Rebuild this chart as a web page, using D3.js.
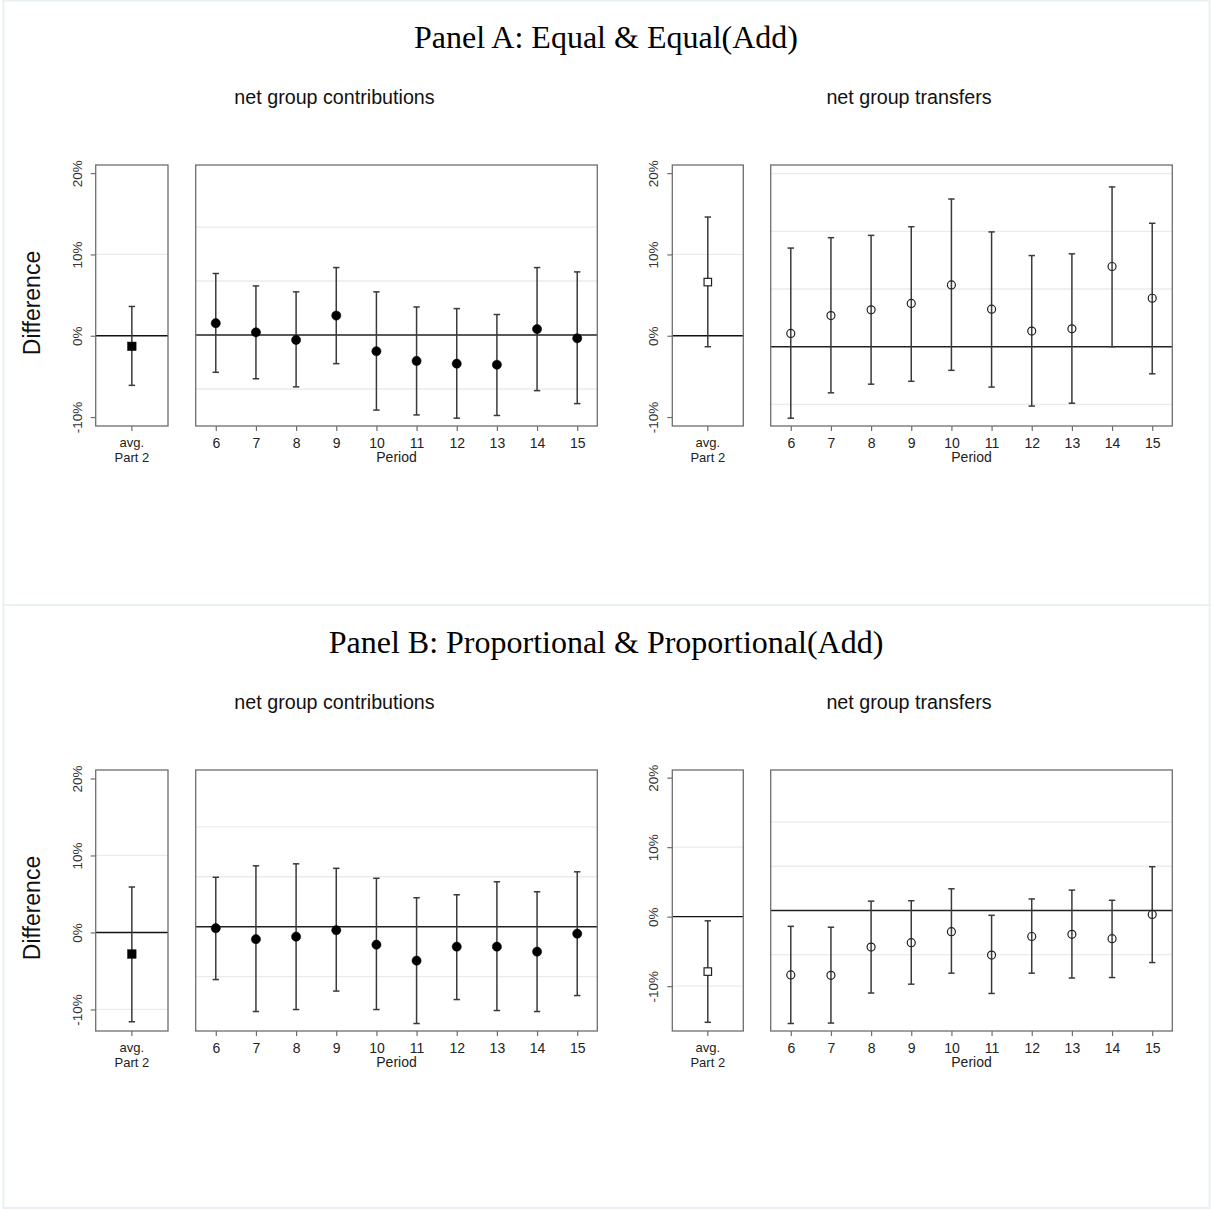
<!DOCTYPE html>
<html>
<head>
<meta charset="utf-8">
<script src="https://cdn.jsdelivr.net/npm/d3@7"></script>
<style>
  html, body { margin: 0; padding: 0; background: #fff; }
  svg { display: block; }
</style>
</head>
<body>
<svg id="chart" width="1213" height="1209"></svg>
<script>
// ---------------- DATA ----------------
const periods = [6, 7, 8, 9, 10, 11, 12, 13, 14, 15];
const panelTitles = ["Panel A: Equal & Equal(Add)", "Panel B: Proportional & Proportional(Add)"];
const subTitles = ["net group contributions", "net group transfers"];
const avgLabel = ["avg.", "Part 2"];
const yTickValues = [-10, 0, 10, 20];

// Panel A — contributions (estimate, lower CI, upper CI)
const contribA_est = [2.2, 0.5, -0.9, 3.6, -3.0, -4.8, -5.3, -5.5, 1.1, -0.6];
const contribA_lo  = [-6.9, -8.1, -9.6, -5.3, -13.9, -14.8, -15.4, -14.9, -10.3, -12.7];
const contribA_hi  = [11.4, 9.1, 8.0, 12.5, 8.0, 5.2, 4.9, 3.8, 12.5, 11.7];
const avgContribA  = [-1.3, -6.1, 3.6];

// Panel A — transfers
const transferA_est = [2.3, 5.4, 6.4, 7.5, 10.7, 6.5, 2.7, 3.1, 13.9, 8.4];
const transferA_lo  = [-12.4, -8.0, -6.5, -6.0, -4.1, -7.0, -10.3, -9.8, 0.0, -4.7];
const transferA_hi  = [17.1, 18.9, 19.3, 20.8, 25.6, 19.9, 15.8, 16.1, 27.7, 21.4];
const avgTransferA  = [6.6, -1.35, 14.6];

// Panel B — contributions
const contribB_est = [-0.3, -2.5, -2.0, -0.7, -3.6, -6.8, -4.0, -4.0, -5.0, -1.4];
const contribB_lo  = [-10.6, -17.0, -16.6, -12.9, -16.6, -19.4, -14.6, -16.8, -17.0, -13.8];
const contribB_hi  = [9.9, 12.2, 12.6, 11.7, 9.7, 5.8, 6.4, 9.0, 7.0, 11.0];
const avgContribB  = [-2.8, -11.6, 5.9];

// Panel B — transfers
const transferB_est = [-14.6, -14.7, -8.3, -7.3, -4.8, -10.1, -5.9, -5.4, -6.4, -0.9];
const transferB_lo  = [-25.6, -25.5, -18.7, -16.7, -14.2, -18.8, -14.2, -15.3, -15.2, -11.8];
const transferB_hi  = [-3.6, -3.8, 2.1, 2.2, 4.9, -1.1, 2.6, 4.6, 2.3, 9.9];
const avgTransferB  = [-7.9, -15.2, -0.6];

// y-domains of each plot (each sub-graph has its own scale)
const domSmallContrib = [[-11.1, 21.0], [-12.8, 21.1]];
const domMainContrib  = [[-16.85, 31.5], [-20.9, 31.4]];
const domSmallTransf  = [[-11.1, 21.0], [-16.45, 21.1]];
const domMainTransf   = [[-13.75, 31.5], [-27.3, 31.8]];
const gridMainContrib = [[-10, 10, 20], [-10, 10, 20]];
const gridMainTransf  = [[-10, 10, 20, 30], [-10, 10, 20]];
const gridSmall       = [[10], [-10, 10]];

// ---------------- DRAWING ----------------
const svg = d3.select("#chart");
const SANS = "Arial, 'Liberation Sans', sans-serif";
const SERIF = "'Times New Roman', 'Liberation Serif', serif";
const boxCol = "#6e6e6e", barCol = "#3a3a3a", gridCol = "#ebebeb", txtCol = "#222";

// panel frames
svg.append("rect").attr("x", 3.5).attr("y", 0.5).attr("width", 1206).attr("height", 604.5)
  .attr("fill", "none").attr("stroke", "#e9f0f2").attr("stroke-width", 2);
svg.append("rect").attr("x", 3.5).attr("y", 605).attr("width", 1206).attr("height", 603)
  .attr("fill", "none").attr("stroke", "#e9f0f2").attr("stroke-width", 2);

function drawBars(g, xs, ys, est, lo, hi, xvals, filled, shape) {
  const capW = 3.2;
  xvals.forEach((xv, i) => {
    const x = xs(xv);
    g.append("line").attr("x1", x).attr("x2", x).attr("y1", ys(lo[i])).attr("y2", ys(hi[i]))
      .attr("stroke", barCol).attr("stroke-width", 1.5);
    [lo[i], hi[i]].forEach(v => {
      g.append("line").attr("x1", x - capW).attr("x2", x + capW).attr("y1", ys(v)).attr("y2", ys(v))
        .attr("stroke", barCol).attr("stroke-width", 1.5);
    });
    if (shape === "circle") {
      g.append("circle").attr("cx", x).attr("cy", ys(est[i])).attr("r", filled ? 4.6 : 4)
        .attr("fill", filled ? "#000" : "none").attr("stroke", filled ? "#000" : "#222")
        .attr("stroke-width", filled ? 0.5 : 1.2);
    } else {
      const s = filled ? 8.5 : 7.5;
      g.append("rect").attr("x", x - s / 2).attr("y", ys(est[i]) - s / 2).attr("width", s).attr("height", s)
        .attr("fill", filled ? "#000" : "#fff").attr("stroke", filled ? "#000" : "#222")
        .attr("stroke-width", filled ? 0.5 : 1.2);
    }
  });
}

function drawSmall(x0, x1, yTop, yBot, dom, grid, avg, filled) {
  const g = svg.append("g");
  const ys = d3.scaleLinear().domain(dom).range([yBot, yTop]);
  const xs = d3.scaleLinear().domain([0, 1]).range([x0, x1]);
  grid.forEach(v => g.append("line").attr("x1", x0).attr("x2", x1).attr("y1", ys(v)).attr("y2", ys(v))
    .attr("stroke", gridCol).attr("stroke-width", 1.2));
  g.append("line").attr("x1", x0).attr("x2", x1).attr("y1", ys(0)).attr("y2", ys(0))
    .attr("stroke", "#111").attr("stroke-width", 1.4);
  drawBars(g, xs, ys, [avg[0]], [avg[1]], [avg[2]], [0.5], filled, "rect");
  g.append("rect").attr("x", x0).attr("y", yTop).attr("width", x1 - x0).attr("height", yBot - yTop)
    .attr("fill", "none").attr("stroke", boxCol).attr("stroke-width", 1.3);
  // y axis
  const yAxis = d3.axisLeft(ys).tickValues(yTickValues).tickSize(5).tickPadding(4)
    .tickFormat(d => d + "%");
  const ax = g.append("g").attr("transform", `translate(${x0},0)`).call(yAxis);
  ax.select(".domain").remove();
  ax.selectAll(".tick line").attr("stroke", boxCol).attr("stroke-width", 1.2);
  ax.selectAll(".tick text")
    .attr("font-family", SANS).attr("font-size", 13.5).attr("fill", "#333")
    .attr("transform", "rotate(-90)").attr("x", 0).attr("y", -14)
    .attr("text-anchor", "middle").attr("dy", "0");
  // x axis tick & label
  const xc = xs(0.5);
  g.append("line").attr("x1", xc).attr("x2", xc).attr("y1", yBot).attr("y2", yBot + 5)
    .attr("stroke", boxCol).attr("stroke-width", 1.2);
  avgLabel.forEach((t, i) => g.append("text").attr("x", xc).attr("y", yBot + 21 + i * 14.5)
    .attr("text-anchor", "middle").attr("font-family", SANS).attr("font-size", 13).attr("fill", txtCol).text(t));
}

function drawMain(x0, x1, yTop, yBot, dom, grid, est, lo, hi, filled) {
  const g = svg.append("g");
  const ys = d3.scaleLinear().domain(dom).range([yBot, yTop]);
  const xs = d3.scaleLinear().domain([5.5, 15.5]).range([x0, x1]);
  grid.forEach(v => g.append("line").attr("x1", x0).attr("x2", x1).attr("y1", ys(v)).attr("y2", ys(v))
    .attr("stroke", gridCol).attr("stroke-width", 1.4));
  g.append("line").attr("x1", x0).attr("x2", x1).attr("y1", ys(0)).attr("y2", ys(0))
    .attr("stroke", "#222").attr("stroke-width", 1.5);
  drawBars(g, xs, ys, est, lo, hi, periods, filled, "circle");
  g.append("rect").attr("x", x0).attr("y", yTop).attr("width", x1 - x0).attr("height", yBot - yTop)
    .attr("fill", "none").attr("stroke", boxCol).attr("stroke-width", 1.3);
  const xAxis = d3.axisBottom(xs).tickValues(periods).tickSize(5).tickPadding(7).tickFormat(d3.format("d"));
  const ax = g.append("g").attr("transform", `translate(0,${yBot})`).call(xAxis);
  ax.select(".domain").remove();
  ax.selectAll(".tick line").attr("stroke", boxCol).attr("stroke-width", 1.2);
  ax.selectAll(".tick text").attr("font-family", SANS).attr("font-size", 14).attr("fill", txtCol);
  g.append("text").attr("x", (x0 + x1) / 2).attr("y", yBot + 36).attr("text-anchor", "middle")
    .attr("font-family", SANS).attr("font-size", 14).attr("fill", txtCol).text("Period");
}

const panels = [
  { off: 0, cE: contribA_est, cL: contribA_lo, cH: contribA_hi, cAvg: avgContribA,
    tE: transferA_est, tL: transferA_lo, tH: transferA_hi, tAvg: avgTransferA },
  { off: 605, cE: contribB_est, cL: contribB_lo, cH: contribB_hi, cAvg: avgContribB,
    tE: transferB_est, tL: transferB_lo, tH: transferB_hi, tAvg: avgTransferB }
];

panels.forEach((p, k) => {
  const o = p.off;
  const yTop = 165 + o, yBot = 426 + o;
  svg.append("text").attr("x", 606).attr("y", 48 + o).attr("text-anchor", "middle")
    .attr("font-family", SERIF).attr("font-size", 32).attr("fill", "#000").text(panelTitles[k]);
  svg.append("text").attr("x", 334.5).attr("y", 104 + o).attr("text-anchor", "middle")
    .attr("font-family", SANS).attr("font-size", 19.7).attr("fill", "#111").text(subTitles[0]);
  svg.append("text").attr("x", 909).attr("y", 104 + o).attr("text-anchor", "middle")
    .attr("font-family", SANS).attr("font-size", 19.7).attr("fill", "#111").text(subTitles[1]);
  svg.append("text").attr("transform", `translate(40,${303 + o}) rotate(-90)`).attr("text-anchor", "middle")
    .attr("font-family", SANS).attr("font-size", 23).attr("fill", "#111").text("Difference");

  drawSmall(95.7, 168, yTop, yBot, domSmallContrib[k], gridSmall[k], p.cAvg, true);
  drawMain(195.7, 597.3, yTop, yBot, domMainContrib[k], gridMainContrib[k], p.cE, p.cL, p.cH, true);
  drawSmall(672.3, 743.3, yTop, yBot, domSmallTransf[k], gridSmall[k], p.tAvg, false);
  drawMain(770.7, 1172.3, yTop, yBot, domMainTransf[k], gridMainTransf[k], p.tE, p.tL, p.tH, false);
});
</script>
</body>
</html>
